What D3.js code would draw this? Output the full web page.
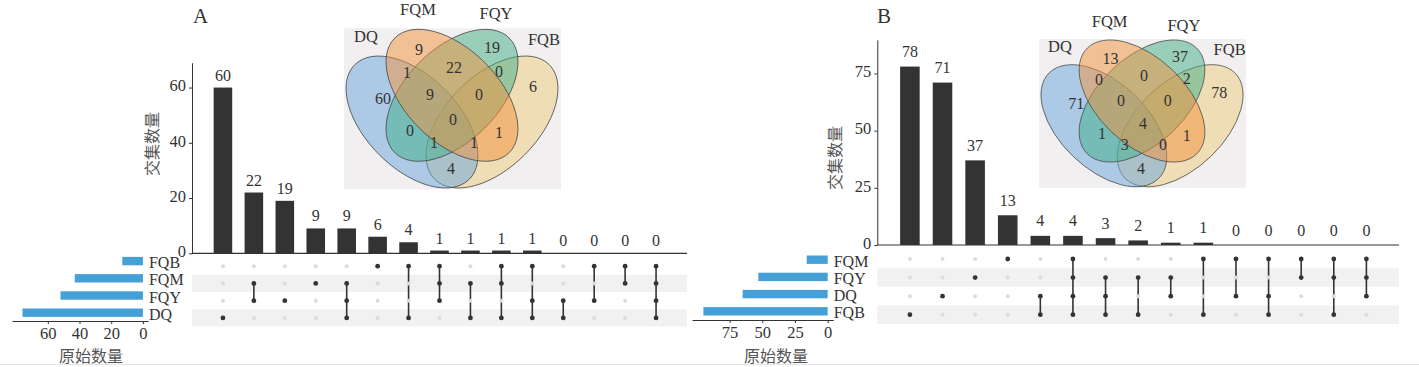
<!DOCTYPE html>
<html>
<head>
<meta charset="utf-8">
<script src="https://cdn.jsdelivr.net/npm/d3@7"></script>
<style>
body { margin: 0; background: #fff; }
text { font-family: "Liberation Serif", "Times New Roman", serif; fill: #333; }
text.cn { font-family: "Noto Sans CJK SC", sans-serif; fill: #555; }
</style>
</head>
<body>
<svg width="1419" height="367"></svg>
<script>
var svg = d3.select("svg");

// ---- panel A data ----
var setsA = ["FQB", "FQM", "FQY", "DQ"];
var setSizeA = [13, 43, 52, 76];
var interCountA = [60, 22, 19, 9, 9, 6, 4, 1, 1, 1, 1, 0, 0, 0, 0];
var interSetsA = [["DQ"], ["FQM", "FQY"], ["FQY"], ["FQM"], ["FQM", "FQY", "DQ"], ["FQB"], ["FQB", "DQ"],
  ["FQB", "FQM", "FQY"], ["FQM", "DQ"], ["FQB", "FQM", "DQ"], ["FQB", "FQY", "DQ"], ["FQY", "DQ"],
  ["FQB", "FQY"], ["FQB", "FQM"], ["FQB", "FQM", "FQY", "DQ"]];
var barTicksA = [0, 20, 40, 60];
var sizeTicksA = [0, 20, 40, 60];

// ---- panel B data ----
var setsB = ["FQM", "FQY", "DQ", "FQB"];
var setSizeB = [16, 53, 65, 95];
var interCountB = [78, 71, 37, 13, 4, 4, 3, 2, 1, 1, 0, 0, 0, 0, 0];
var interSetsB = [["FQB"], ["DQ"], ["FQY"], ["FQM"], ["DQ", "FQB"], ["FQM", "FQY", "DQ", "FQB"],
  ["FQY", "DQ", "FQB"], ["FQY", "FQB"], ["FQY", "DQ"], ["FQM", "FQB"], ["FQM", "DQ"],
  ["FQM", "DQ", "FQB"], ["FQM", "FQY"], ["FQM", "FQY", "FQB"], ["FQM", "FQY", "DQ"]];
var barTicksB = [0, 25, 50, 75];
var sizeTicksB = [0, 25, 50, 75];

// ---- venn regions (membership in DQ, FQM, FQY, FQB) ----
var vennSets = ["DQ", "FQM", "FQY", "FQB"];
var vennKeys = ["1000", "0100", "0010", "0001", "1100", "0110", "0011", "1110", "0111",
  "1111", "1010", "0101", "1011", "1101", "1001"];
var vennCountA = [60, 9, 19, 6, 1, 22, 0, 9, 0, 0, 0, 1, 1, 1, 4];
var vennCountB = [71, 13, 37, 78, 0, 0, 2, 0, 0, 4, 1, 1, 3, 0, 4];

// venn layout (px, relative to centre of the two inner ellipses)
var vennColors = ["#68a6de", "#f3913c", "#3fae85", "#eecb7e"];
var drawOrder = [3, 0, 2, 1];
var ellipseGeo = [
  { x: -40, y: 26.7, rot: 45 },
  { x: 0, y: 0, rot: 45 },
  { x: 0, y: 0, rot: -45 },
  { x: 40, y: 26.7, rot: -45 }
];
var regionPos = {
  "1000": [-69, 3], "0100": [-33, -46], "0010": [40, -48], "0001": [81, -9],
  "1100": [-45, -23], "0110": [2, -28], "0011": [47, -24],
  "1110": [-22, -1], "0111": [27, -1], "1111": [1, 24],
  "1010": [-42, 35], "0101": [47, 37], "1011": [-18, 47], "1101": [22, 47], "1001": [-1, 73]
};
var setNamePos = { DQ: [-86, -59], FQM: [-34, -86], FQY: [44, -82], FQB: [92, -56] };

var panels = [
  { title: "A", titleX: 200.5, sets: setsA, sizes: setSizeA, counts: interCountA, combos: interSetsA,
    barTicks: barTicksA, sizeTicks: sizeTicksA, venn: vennCountA,
    axisX: 192, axisEnd: 687, baseY: 253.3, yMax: 69, topY: 62.7, labelGap: 7,
    matTop: 257.5, matBot: 326.5, sizeTop: 252.5, sizeBot: 321.3, sizeAxisY: 321,
    sizeDom: [-3.2, 82.6], sizeRange: [148, 12], sizeTitleX: 91, yLabelX: 152, yLabelY: 144,
    vcx: 452, vcy: 95.3, vsx: 1, vsy: 1 },
  { title: "B", titleX: 884, sets: setsB, sizes: setSizeB, counts: interCountB, combos: interSetsB,
    barTicks: barTicksB, sizeTicks: sizeTicksB, venn: vennCountB,
    axisX: 877.3, axisEnd: 1399, baseY: 245, yMax: 89.7, topY: 39.8, labelGap: 9.5,
    matTop: 249.7, matBot: 324, sizeTop: 251.1, sizeBot: 319.9, sizeAxisY: 320,
    sizeDom: [-4.3, 103.7], sizeRange: [833.3, 692], sizeTitleX: 776, yLabelX: 835, yLabelY: 158,
    vcx: 1142, vcy: 101, vsx: 0.953, vsy: 0.925 }
];

function drawVenn(g, p) {
  var v = g.append("g");
  v.append("rect")
    .attr("x", p.vcx - 108 * p.vsx).attr("y", p.vcy - 67 * p.vsy)
    .attr("width", 217 * p.vsx).attr("height", 161 * p.vsy)
    .attr("fill", "#f1efef");
  drawOrder.forEach(function (i) {
    var e = ellipseGeo[i];
    v.append("ellipse")
      .attr("transform", "translate(" + p.vcx + "," + p.vcy + ") scale(" + p.vsx + "," + p.vsy + ") translate(" + e.x + "," + e.y + ") rotate(" + e.rot + ")")
      .attr("rx", 81).attr("ry", 46.3)
      .attr("fill", vennColors[i]).attr("fill-opacity", 0.5)
      .attr("stroke", "#4a4a4a").attr("stroke-width", 0.8);
  });
  vennKeys.forEach(function (k, i) {
    var pos = regionPos[k];
    v.append("text")
      .attr("x", p.vcx + pos[0] * p.vsx).attr("y", p.vcy + pos[1] * p.vsy)
      .attr("text-anchor", "middle").attr("dy", "0.35em")
      .style("font-size", "16px").text(p.venn[i]);
  });
  vennSets.forEach(function (s) {
    var pos = setNamePos[s];
    v.append("text")
      .attr("x", p.vcx + pos[0] * p.vsx).attr("y", p.vcy + pos[1] * p.vsy)
      .attr("text-anchor", "middle").attr("dy", "0.35em")
      .style("font-size", "16.5px").text(s);
  });
}

function drawPanel(p) {
  var g = svg.append("g");

  g.append("text").attr("x", p.titleX).attr("y", 23)
    .attr("text-anchor", "middle").style("font-size", "21px").text(p.title);

  var idx = d3.range(p.counts.length);
  var x = d3.scalePoint().domain(idx).range([p.axisX, p.axisEnd]).padding(1);
  var y = d3.scaleLinear().domain([0, p.yMax]).range([p.baseY, p.topY]);
  var bw = x.step() * 0.6;

  // matrix stripes
  var row = d3.scaleBand().domain(p.sets).range([p.matTop, p.matBot]);
  g.selectAll(".stripe").data(p.sets.filter(function (d, i) { return i % 2 === 1; }))
    .enter().append("rect")
    .attr("x", p.axisX).attr("width", p.axisEnd - p.axisX)
    .attr("y", function (d) { return row(d); }).attr("height", row.bandwidth())
    .attr("fill", "#f1f1f1");

  drawVenn(g, p);

  // intersection bars
  g.selectAll(".bar").data(idx).enter().append("rect")
    .attr("x", function (i) { return x(i) - bw / 2; })
    .attr("y", function (i) { return y(p.counts[i]); })
    .attr("width", bw)
    .attr("height", function (i) { return p.baseY - y(p.counts[i]); })
    .attr("fill", "#333");
  g.selectAll(".blab").data(idx).enter().append("text")
    .attr("x", function (i) { return x(i); })
    .attr("y", function (i) { return y(p.counts[i]) - p.labelGap; })
    .attr("text-anchor", "middle").style("font-size", "16px")
    .text(function (i) { return p.counts[i]; });

  var yAx = g.append("g").attr("transform", "translate(" + p.axisX + ",0)")
    .call(d3.axisLeft(y).tickValues(p.barTicks).tickSize(3).tickSizeOuter(0).tickPadding(3));
  yAx.selectAll("text").style("font-size", "16.5px").attr("fill", "#444").attr("dy", "0.2em");
  yAx.selectAll("line,path").attr("stroke", "#333");
  g.append("line").attr("x1", p.axisX).attr("x2", p.axisEnd)
    .attr("y1", p.baseY).attr("y2", p.baseY).attr("stroke", "#333").attr("stroke-width", 1.2);

  g.append("text").attr("class", "cn")
    .attr("transform", "translate(" + p.yLabelX + "," + p.yLabelY + ") rotate(-90)")
    .attr("text-anchor", "middle").attr("dy", "0.35em")
    .style("font-size", "16px").text("交集数量");

  // matrix dots and lines
  idx.forEach(function (i) {
    var on = p.combos[i];
    var ys = on.map(function (s) { return row(s) + row.bandwidth() / 2; });
    g.append("line").attr("x1", x(i)).attr("x2", x(i))
      .attr("y1", d3.min(ys)).attr("y2", d3.max(ys))
      .attr("stroke", "#333").attr("stroke-width", 1.6);
    p.sets.forEach(function (s) {
      var hit = on.indexOf(s) >= 0;
      g.append("circle").attr("cx", x(i)).attr("cy", row(s) + row.bandwidth() / 2)
        .attr("r", hit ? 2.4 : 2).attr("fill", hit ? "#333" : "#dcdcdc");
    });
  });

  // set size bars
  var srow = d3.scaleBand().domain(p.sets).range([p.sizeTop, p.sizeBot]);
  var sx = d3.scaleLinear().domain(p.sizeDom).range(p.sizeRange);
  g.selectAll(".sbar").data(p.sets).enter().append("rect")
    .attr("x", function (d, i) { return sx(p.sizes[i]); })
    .attr("y", function (d) { return srow(d) + srow.bandwidth() / 2 - 4.2; })
    .attr("width", function (d, i) { return sx(0) - sx(p.sizes[i]); })
    .attr("height", 8.4)
    .attr("fill", "#45a0d8");
  g.selectAll(".slab").data(p.sets).enter().append("text")
    .attr("x", sx(0) + 6)
    .attr("y", function (d) { return srow(d) + srow.bandwidth() / 2 + 1.5; })
    .attr("dy", "0.35em").style("font-size", "16px").text(function (d) { return d; });
  var sAx = g.append("g").attr("transform", "translate(0," + p.sizeAxisY + ")")
    .call(d3.axisBottom(sx).tickValues(p.sizeTicks).tickSize(3).tickSizeOuter(0).tickPadding(3));
  sAx.selectAll("text").style("font-size", "16.5px").attr("fill", "#444");
  sAx.selectAll("line,path").attr("stroke", "#333");
  g.append("text").attr("class", "cn")
    .attr("x", p.sizeTitleX).attr("y", 356.5).attr("dy", "0.35em")
    .attr("text-anchor", "middle").style("font-size", "16px").text("原始数量");
}

panels.forEach(drawPanel);

svg.append("line").attr("x1", 0).attr("x2", 1419).attr("y1", 364.5).attr("y2", 364.5)
  .attr("stroke", "#e4e4e4");
</script>
</body>
</html>
